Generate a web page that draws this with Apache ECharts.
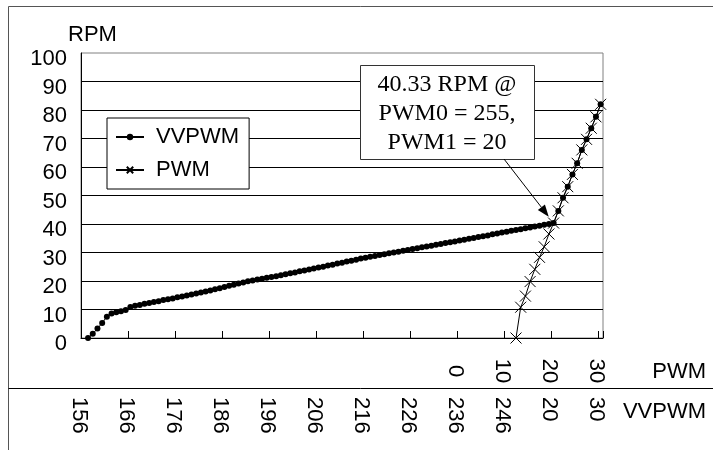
<!DOCTYPE html>
<html><head><meta charset="utf-8">
<script src="https://cdn.jsdelivr.net/npm/echarts@6/dist/echarts.min.js"></script>
<style>html,body{margin:0;padding:0;background:#fff}#c{width:713px;height:450px}</style>
</head><body><div id="c"></div>
<script>
// VVPWM category row (PWM0 156..255, then PWM1 20..30 at PWM0 = 255)
const vvpwmLabels = [
  156,157,158,159,160,161,162,163,164,165,
  166,167,168,169,170,171,172,173,174,175,
  176,177,178,179,180,181,182,183,184,185,
  186,187,188,189,190,191,192,193,194,195,
  196,197,198,199,200,201,202,203,204,205,
  206,207,208,209,210,211,212,213,214,215,
  216,217,218,219,220,221,222,223,224,225,
  226,227,228,229,230,231,232,233,234,235,
  236,237,238,239,240,241,242,243,244,245,
  246,247,248,249,250,251,252,253,254,255,
  20,21,22,23,24,25,26,27,28,29,30
];
// PWM category row (blank until duty 0)
const pwmLabels = Array(80).fill('').concat([
  0,1,2,3,4,5,6,7,8,9,10,11,12,13,14,15,16,17,18,19,20,21,22,23,24,25,26,27,28,29,30
]);
// RPM of the VVPWM series, one per VVPWM category
const vvpwmRpm = [
  null, 0, 1.5, 3.3, 5.3, 7.5, 8.6, 9.0, 9.4, 9.8,
  10.9, 11.3, 11.6, 12.0, 12.3, 12.6, 12.9, 13.3, 13.6, 13.9,
  14.3, 14.6, 14.9, 15.3, 15.6, 16.0, 16.3, 16.7, 17.1, 17.5,
  17.9, 18.3, 18.7, 19.1, 19.5, 19.9, 20.2, 20.5, 20.8, 21.1,
  21.4, 21.7, 22.0, 22.4, 22.7, 23.0, 23.4, 23.7, 24.0, 24.4,
  24.7, 25.0, 25.4, 25.7, 26.1, 26.4, 26.8, 27.1, 27.5, 27.9,
  28.2, 28.5, 28.8, 29.1, 29.4, 29.7, 30.0, 30.3, 30.6, 30.9,
  31.2, 31.5, 31.8, 32.1, 32.4, 32.7, 33.0, 33.3, 33.6, 33.9,
  34.2, 34.5, 34.8, 35.1, 35.4, 35.7, 36.0, 36.4, 36.7, 37.0,
  37.3, 37.6, 37.9, 38.2, 38.5, 38.8, 39.1, 39.4, 39.7, 40.0,
  40.33, 44.6, 49.2, 53.1, 57.4, 61.3, 66.0, 69.7, 73.6, 77.6, 82.0
];
// PWM series: duty values and RPM
const pwmDuty = [12,13,14,15,16,17,18,19,20,21,22,23,24,25,26,27,28,29,30];
const pwmRpm  = [0, 10.8, 14.7, 19.8, 24.1, 28.3, 32.0, 36.5, 40.33, 44.6, 49.2, 53.1, 57.4, 61.3, 66.0, 69.7, 73.6, 77.6, 82.0];
const yMin = 0, yMax = 100, yStep = 10;
const annotationLines = ['40.33 RPM @', 'PWM0 = 255,', 'PWM1 = 20'];
const annotatedIndex = 100;

const SANS = '"Liberation Sans", Arial, sans-serif';
const SERIF = '"Liberation Serif", "Times New Roman", serif';

const pwmSeriesData = pwmLabels.map(function (l) {
  const k = l === '' ? -1 : pwmDuty.indexOf(l);
  return k < 0 ? null : pwmRpm[k];
});

const chart = echarts.init(document.getElementById('c'), null, {renderer: 'canvas'});
const baseX = {
  type: 'category', boundaryGap: true, position: 'bottom', gridIndex: 0
};
chart.setOption({
  animation: false,
  backgroundColor: '#fff',
  grid: {left: 81, top: 53, right: 110, bottom: 112, show: true, borderColor: '#808080', borderWidth: 1, backgroundColor: 'transparent'},
  legend: {
    orient: 'vertical', left: 107, top: 118,
    data: ['VVPWM', 'PWM'],
    backgroundColor: '#fff', borderColor: '#000', borderWidth: 1,
    padding: [8, 10, 8, 8], itemGap: 11, itemWidth: 28, itemHeight: 8,
    selectedMode: false,
    textStyle: {fontFamily: SANS, fontSize: 22, lineHeight: 22, color: '#000', padding: [0, 0, 0, 7]}
  },
  xAxis: [
    Object.assign({}, baseX, {
      data: vvpwmLabels,
      axisLine: {show: true, onZero: false, lineStyle: {color: '#000', width: 1}},
      axisTick: {show: true, inside: true, length: 7, interval: 9, lineStyle: {color: '#000'}},
      axisLabel: {show: false},
      splitLine: {show: false}
    }),
    Object.assign({}, baseX, {
      data: pwmLabels,
      axisLine: {show: false, onZero: false},
      axisTick: {show: false},
      axisLabel: {show: true, interval: 9, rotate: -90, align: 'center', verticalAlign: 'top', lineHeight: 9, margin: 33,
        fontFamily: SANS, fontSize: 22, color: '#000'},
      splitLine: {show: false}
    }),
    Object.assign({}, baseX, {
      data: vvpwmLabels,
      axisLine: {show: false, onZero: false},
      axisTick: {show: false},
      axisLabel: {show: true, interval: 9, rotate: -90, align: 'left', verticalAlign: 'top', lineHeight: 9, margin: 59,
        fontFamily: SANS, fontSize: 22, color: '#000'},
      splitLine: {show: false}
    })
  ],
  yAxis: {
    type: 'value', min: yMin, max: yMax, interval: yStep,
    axisLine: {show: true, lineStyle: {color: '#000', width: 1}},
    axisTick: {show: false},
    axisLabel: {fontFamily: SANS, fontSize: 22, color: '#000', margin: 14, verticalAlign: 'top', lineHeight: 12},
    splitLine: {show: true, showMinLine: false, showMaxLine: false, lineStyle: {color: '#000', width: 1}}
  },
  series: [
    {
      name: 'VVPWM', type: 'line', xAxisIndex: 0, yAxisIndex: 0,
      data: vvpwmRpm, color: '#000',
      symbol: 'circle', symbolSize: 6, showSymbol: true, showAllSymbol: true,
      lineStyle: {color: '#000', width: 1},
      itemStyle: {color: '#000', borderWidth: 0},
      silent: true, z: 3
    },
    {
      name: 'PWM', type: 'line', xAxisIndex: 0, yAxisIndex: 0,
      data: pwmSeriesData, color: '#000', connectNulls: false,
      symbol: 'path://M0,0L10,10M10,0L0,10', symbolSize: 11, showSymbol: true, showAllSymbol: true,
      lineStyle: {color: '#000', width: 1},
      itemStyle: {color: 'rgba(0,0,0,0)', borderColor: '#000', borderWidth: 1},
      silent: true, z: 4
    }
  ]
});

// annotation arrow pointing at the annotated data point
const p = chart.convertToPixel({xAxisIndex: 0, yAxisIndex: 0}, [annotatedIndex, vvpwmRpm[annotatedIndex]]);
const sx = 504, sy = 159;
const dx = p[0] - sx, dy = p[1] - sy, len = Math.sqrt(dx * dx + dy * dy);
const ux = dx / len, uy = dy / len;
const tipX = p[0] - ux * 8, tipY = p[1] - uy * 8;
const bx = tipX - ux * 12, by = tipY - uy * 12;
const px = -uy, py = ux;

chart.setOption({
  graphic: [
    {type: 'line', z: 1, shape: {x1: 8.5, y1: 6.5, x2: 713, y2: 6.5}, style: {stroke: '#555', lineWidth: 1}},
    {type: 'line', z: 1, shape: {x1: 8.5, y1: 6.5, x2: 8.5, y2: 450}, style: {stroke: '#555', lineWidth: 1}},
    {type: 'line', z: 1, shape: {x1: 8.5, y1: 388.5, x2: 713, y2: 388.5}, style: {stroke: '#000', lineWidth: 1}},
    {type: 'text', z: 10, x: 68, y: 35, style: {text: 'RPM', font: '22px ' + SANS, fill: '#000', align: 'left', verticalAlign: 'middle'}},
    {type: 'text', z: 10, x: 706, y: 372, style: {text: 'PWM', font: '22px ' + SANS, fill: '#000', align: 'right', verticalAlign: 'middle'}},
    {type: 'text', z: 10, x: 706, y: 412, style: {text: 'VVPWM', font: '22px ' + SANS, fill: '#000', align: 'right', verticalAlign: 'middle'}},
    {type: 'rect', z: 100, shape: {x: 360.5, y: 65.5, width: 174, height: 94}, style: {fill: '#fff', stroke: '#333', lineWidth: 1}},
    {type: 'text', z: 101, x: 447, y: 114, style: {text: annotationLines.join('\n'), font: '24px ' + SERIF, lineHeight: 29, fill: '#000', align: 'center', verticalAlign: 'middle'}},
    {type: 'line', z: 100, shape: {x1: sx, y1: sy, x2: bx, y2: by}, style: {stroke: '#000', lineWidth: 1}},
    {type: 'polygon', z: 100, shape: {points: [[tipX, tipY], [bx + px * 4.5, by + py * 4.5], [bx - px * 4.5, by - py * 4.5]]}, style: {fill: '#000'}}
  ]
});
</script>
</body></html>
